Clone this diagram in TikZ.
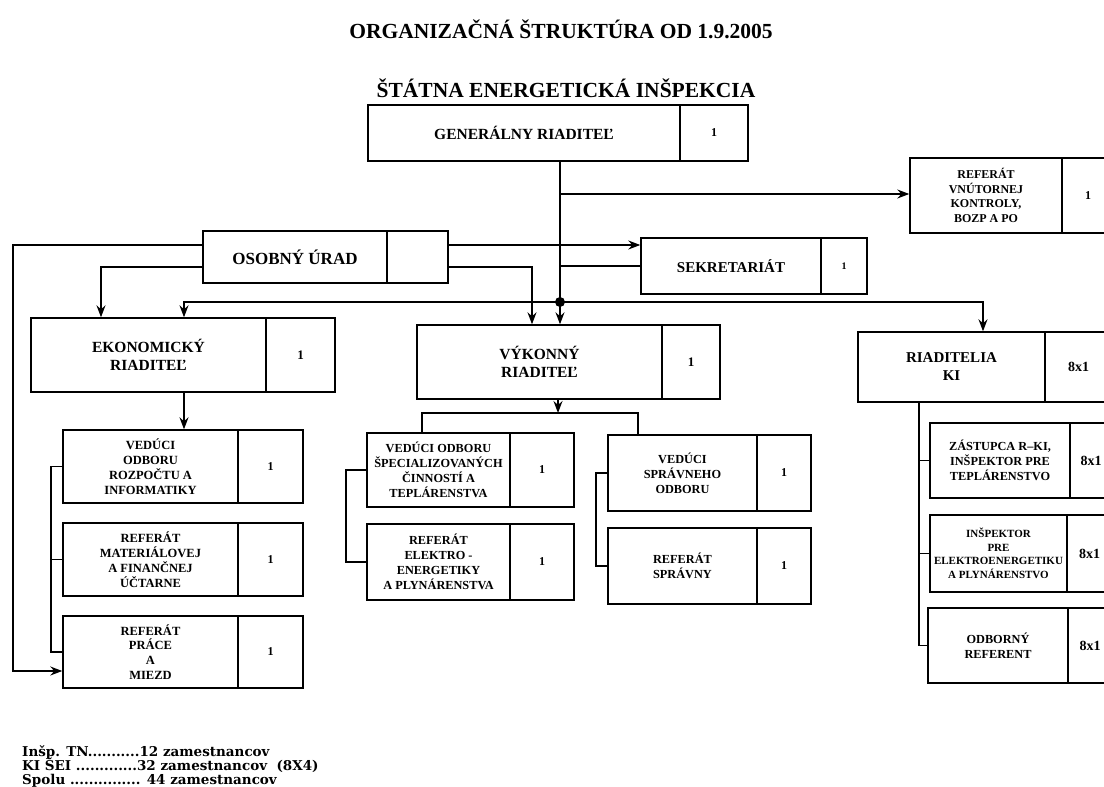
\documentclass[tikz,border=0pt]{standalone}
\usepackage{fontspec}
\setmainfont{Liberation Serif}
\newfontfamily\footfont{DejaVu Serif}
\usetikzlibrary{arrows.meta}
\newcommand\bfz[2]{\fontsize{#1}{#2}\selectfont\bfseries}
% name, x1, xdivider, x2, y1, y2, font, text, count
\newcommand\orgbox[9]{%
  \node[box, minimum width={(#3-#2)*1pt}, minimum height={(#6-#5)*1pt}, font=#7]
    (#1) at ({(#2+#3)/2},{(#5+#6)/2}) {#8};
  \node[box, minimum width={(#4-#3)*1pt}, minimum height={(#6-#5)*1pt}]
    (#1n) at ({(#3+#4)/2},{(#5+#6)/2}) {#9};
}
\begin{document}
\begin{tikzpicture}[x=1pt,y=-1pt,
  box/.style={draw, line width=1.4pt, inner sep=0pt, align=center},
  conn/.style={line width=1.4pt},
  arrw/.style={conn, -{Stealth[length=12pt,width=9pt,inset=4pt]}}]
\clip (0,0) rectangle (1104,787);
\fill[white] (0,0) rectangle (1104,787);

% titles
\node[anchor=base, font=\bfz{21.5}{24}] (title) at (561,38) {ORGANIZAČNÁ ŠTRUKTÚRA OD 1.9.2005};
\node[anchor=base, font=\bfz{21.5}{24}] (subtitle) at (566,97) {ŠTÁTNA ENERGETICKÁ INŠPEKCIA};

% boxes
\orgbox{gen}{368}{680}{748}{105}{161}{\bfz{15.5}{17}}{GENERÁLNY RIADITEĽ}{\bfz{12}{14}1}
\orgbox{ref}{910}{1062}{1114}{158}{233}{\bfz{12}{14.4}}{REFERÁT\\VNÚTORNEJ\\KONTROLY,\\BOZP A PO}{\bfz{12}{14}1}
\orgbox{osob}{203}{387}{448}{231}{283}{\bfz{17}{19}}{OSOBNÝ ÚRAD}{}
\orgbox{sekr}{641}{821}{867}{238}{294}{\bfz{15}{17}}{SEKRETARIÁT}{\bfz{10}{12}1}
\orgbox{ekon}{31}{266}{335}{318}{392}{\bfz{15.5}{18}}{EKONOMICKÝ\\RIADITEĽ}{\bfz{13}{15}1}
\orgbox{vyk}{417}{662}{720}{325}{399}{\bfz{15.5}{18}}{VÝKONNÝ\\RIADITEĽ}{\bfz{13}{15}1}
\orgbox{riak}{858}{1045}{1112}{332}{402}{\bfz{15}{18}}{RIADITELIA\\KI}{\bfz{14}{16}8x1}
\orgbox{rozp}{63}{238}{303}{430}{503}{\bfz{12.5}{14.8}}{VEDÚCI\\ODBORU\\ROZPOČTU A\\INFORMATIKY}{\bfz{12}{14}1}
\orgbox{mater}{63}{238}{303}{523}{596}{\bfz{12.5}{14.8}}{REFERÁT\\MATERIÁLOVEJ\\A FINANČNEJ\\ÚČTARNE}{\bfz{12}{14}1}
\orgbox{prace}{63}{238}{303}{616}{688}{\bfz{12.5}{14.8}}{REFERÁT\\PRÁCE\\A\\MIEZD}{\bfz{12}{14}1}
\orgbox{spec}{367}{510}{574}{433}{507}{\bfz{12.3}{14.8}}{VEDÚCI ODBORU\\ŠPECIALIZOVANÝCH\\ČINNOSTÍ A\\TEPLÁRENSTVA}{\bfz{12}{14}1}
\orgbox{elek}{367}{510}{574}{524}{600}{\bfz{12.3}{14.8}}{REFERÁT\\ELEKTRO -\\ENERGETIKY\\A PLYNÁRENSTVA}{\bfz{12}{14}1}
\orgbox{sprv}{608}{757}{811}{435}{511}{\bfz{12.3}{14.8}}{VEDÚCI\\SPRÁVNEHO\\ODBORU}{\bfz{12}{14}1}
\orgbox{sprvny}{608}{757}{811}{528}{604}{\bfz{12.3}{14.8}}{REFERÁT\\SPRÁVNY}{\bfz{12}{14}1}
\orgbox{zast}{930}{1070}{1112}{423}{498}{\bfz{12.3}{14.8}}{ZÁSTUPCA R–KI,\\INŠPEKTOR PRE\\TEPLÁRENSTVO}{\bfz{14}{16}8x1}
\orgbox{insp}{930}{1067}{1112}{515}{592}{\bfz{11}{13.5}}{INŠPEKTOR\\PRE\\ELEKTROENERGETIKU\\A PLYNÁRENSTVO}{\bfz{14}{16}8x1}
\orgbox{odb}{928}{1068}{1112}{608}{683}{\bfz{12.3}{14.8}}{ODBORNÝ\\REFERENT}{\bfz{14}{16}8x1}

% helper coordinates
\coordinate (dot) at (560,302);
\coordinate (tref) at (560,194);
\coordinate (tsek) at (560,266);
\coordinate (o1) at (448,245);
\coordinate (o2) at (532,267);
\coordinate (o3) at (13,245);
\coordinate (o3b) at (13,671);
\coordinate (o4) at (101,267);
\coordinate (dl) at (184,302);
\coordinate (dr) at (983,302);
\coordinate (vb) at (558,413);
\coordinate (vl) at (422,413);
\coordinate (vr) at (638,413);
\coordinate (bl) at (51,0);
\coordinate (bm) at (346,0);
\coordinate (bs) at (596,0);
\coordinate (br) at (919,0);

% connectors
\draw[conn] (gen.south -| dot) -- (dot);
\draw[arrw] (dot) -- (dot |- vyk.north);
\draw[arrw] (tref) -- (tref -| ref.west);
\draw[conn] (tsek) -- (tsek -| sekr.west);
\draw[arrw] (osobn.east |- o1) -- (o1 -| sekr.west);
\draw[arrw] (osobn.east |- o2) -- (o2) -- (o2 |- vyk.north);
\draw[arrw] (osob.west |- o3) -- (o3) -- (o3b) -- (o3b -| prace.west);
\draw[arrw] (osob.west |- o4) -- (o4) -- (o4 |- ekon.north);
\draw[arrw] (dot) -- (dl) -- (dl |- ekon.north);
\draw[arrw] (dot) -- (dr) -- (dr |- riak.north);
\fill (dot) circle[radius=5pt];
\draw[arrw] (ekon.south -| dl) -- (rozp.north -| dl);
\draw[conn] (rozp.west) -- (rozp.west -| bl) -- (prace.west -| bl) -- (prace.west);
\draw[conn] (mater.west -| bl) -- (mater.west);
\draw[arrw] (vyk.south -| vb) -- (vb);
\draw[conn] (spec.north -| vl) -- (vl) -- (vr) -- (vr |- sprv.north);
\draw[conn] (spec.west) -- (spec.west -| bm) -- (elek.west -| bm) -- (elek.west);
\draw[conn] (sprv.west) -- (sprv.west -| bs) -- (sprvny.west -| bs) -- (sprvny.west);
\draw[conn] (riak.south -| br) -- (odb.west -| br) -- (odb.west);
\draw[conn] (zast.west -| br) -- (zast.west);
\draw[conn] (insp.west -| br) -- (insp.west);

% footer
\tikzset{footer/.style={anchor=base west, inner sep=0pt, font=\footfont\bfseries\fontsize{13.5}{15}\selectfont}}
\node[footer] (foot1) at (22,756) {Inšp. TN...........12 zamestnancov};
\node[footer] (foot2) at (22,770) {KI ŠEI .............32 zamestnancov\ \ (8X4)};
\node[footer] (foot3) at (22,784) {Spolu ............... 44 zamestnancov};
\end{tikzpicture}
\end{document}
